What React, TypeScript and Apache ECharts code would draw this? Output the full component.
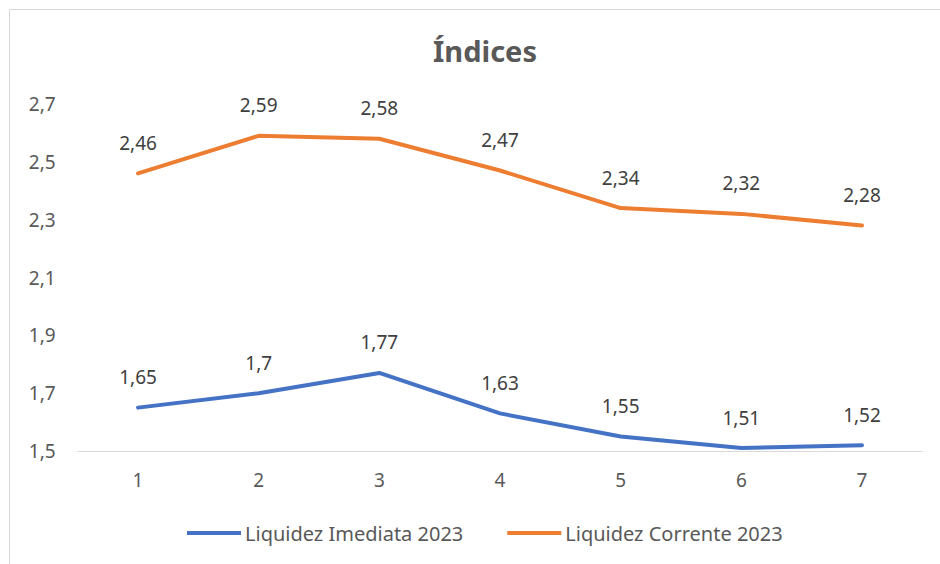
import React, { useEffect, useRef } from "react";
import * as echarts from "echarts";

const categories = ["1", "2", "3", "4", "5", "6", "7"];
const imediata2023 = [1.65, 1.7, 1.77, 1.63, 1.55, 1.51, 1.52];
const corrente2023 = [2.46, 2.59, 2.58, 2.47, 2.34, 2.32, 2.28];
const seriesNames = ["Liquidez Imediata 2023", "Liquidez Corrente 2023"];
const titleText = "Índices";

const FONT = "'Noto Sans', 'Open Sans', sans-serif";
const fmt = (v: number) => String(v).replace(".", ",");

export default function App() {
  const ref = useRef<HTMLDivElement>(null);
  useEffect(() => {
    if (!ref.current) return;
    const chart = echarts.init(ref.current, undefined, { renderer: "svg" });
    const labelStyle = {
      show: true,
      position: "top" as const,
      distance: 21,
      color: "#404040",
      fontSize: 19,
      fontFamily: FONT,
      formatter: (p: any) => fmt(p.value),
    };
    chart.setOption({
      animation: false,
      backgroundColor: "#ffffff",
      textStyle: { fontFamily: FONT },
      graphic: [
        {
          type: "rect",
          shape: { x: 9.5, y: 9.5, width: 1000, height: 1000 },
          style: { fill: "none", stroke: "#d9d9d9", lineWidth: 1 },
          silent: true,
          z: -1,
        },
      ],
      title: {
        text: titleText,
        left: 428,
        top: 31,
        textStyle: { fontSize: 29, fontWeight: "bold", color: "#595959", fontFamily: FONT },
      },
      legend: {
        data: seriesNames,
        bottom: 16,
        left: 182,
        icon: "rect",
        itemWidth: 54,
        itemHeight: 4,
        itemGap: 44,
        textStyle: { fontSize: 20, color: "#595959", fontFamily: FONT, padding: [0, 0, 0, -1] },
      },
      grid: { left: 77.7, right: 17.7, top: 104, bottom: 113 },
      xAxis: {
        type: "category",
        data: categories,
        boundaryGap: true,
        axisLine: { show: true, lineStyle: { color: "#d9d9d9", width: 1 } },
        axisTick: { show: false },
        axisLabel: { color: "#595959", fontSize: 19, margin: 19, fontFamily: FONT },
      },
      yAxis: {
        type: "value",
        min: 1.5,
        max: 2.7,
        interval: 0.2,
        axisLine: { show: false },
        axisTick: { show: false },
        splitLine: { show: false },
        axisLabel: {
          color: "#595959",
          fontSize: 19,
          margin: 22,
          fontFamily: FONT,
          formatter: (v: number) => fmt(Math.round(v * 10) / 10),
        },
      },
      series: [
        {
          name: seriesNames[0],
          type: "line",
          data: imediata2023,
          symbol: "circle",
          symbolSize: 0,
          showSymbol: true,
          lineStyle: { color: "#4472C4", width: 4, cap: "round", join: "round" },
          itemStyle: { color: "#4472C4" },
          label: labelStyle,
        },
        {
          name: seriesNames[1],
          type: "line",
          data: corrente2023,
          symbol: "circle",
          symbolSize: 0,
          showSymbol: true,
          lineStyle: { color: "#ED7D31", width: 4, cap: "round", join: "round" },
          itemStyle: { color: "#ED7D31" },
          label: labelStyle,
        },
      ],
    });
    return () => chart.dispose();
  }, []);
  return (
    <div
      ref={ref}
      style={{ position: "fixed", left: 0, top: 0, width: 940, height: 564 }}
    />
  );
}
